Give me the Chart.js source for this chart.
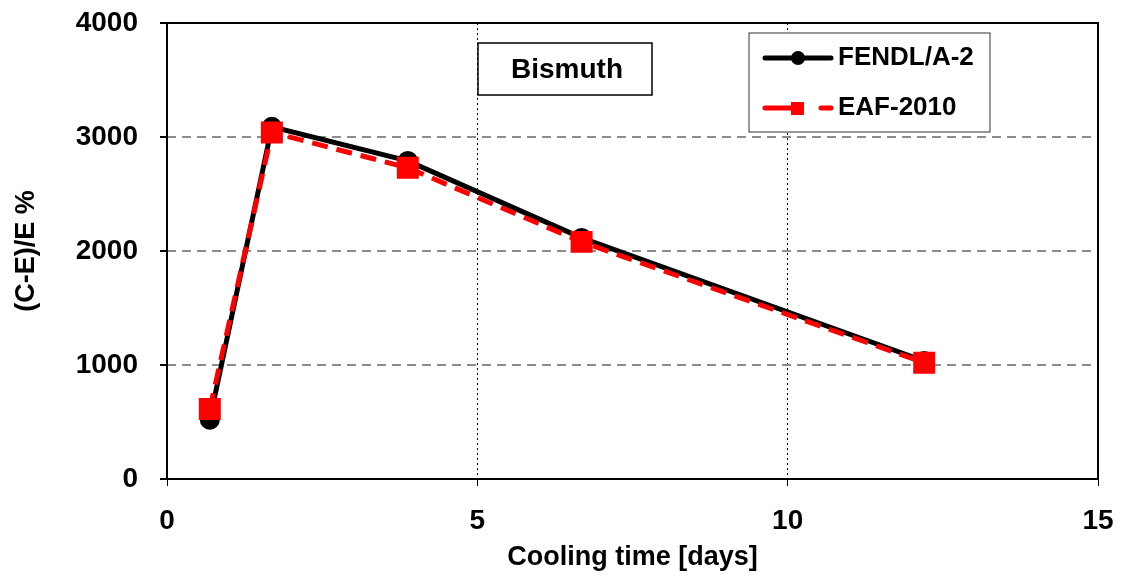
<!DOCTYPE html>
<html>
<head>
<meta charset="utf-8">
<script src="https://cdn.jsdelivr.net/npm/chart.js@4"></script>
<style>
  html, body { margin: 0; padding: 0; background: #fff; }
  #wrap { width: 1122px; height: 575px; }
</style>
</head>
<body>
<div id="wrap"><canvas id="chart" width="1122" height="575"></canvas></div>
<script>
// data
const coolingDays = [0.69, 1.69, 3.88, 6.68, 12.2];
const fendlValues = [520, 3090, 2790, 2115, 1035];
const eafValues = [615, 3040, 2730, 2080, 1020];
const seriesNames = ["FENDL/A-2", "EAF-2010"];
const xTicks = [0, 5, 10, 15];
const yTicks = [0, 1000, 2000, 3000, 4000];

const FONT = "'Liberation Sans', Arial, sans-serif";

function toPoints(xs, ys) {
  return xs.map((x, i) => ({ x: x, y: ys[i] }));
}

// frame round the plot area
const framePlugin = {
  id: "frame",
  beforeDatasetsDraw(chart) {
    const { ctx, chartArea: a } = chart;
    ctx.save();
    ctx.strokeStyle = "#000";
    ctx.lineWidth = 2;
    ctx.strokeRect(a.left, a.top, a.right - a.left, a.bottom - a.top);
    ctx.restore();
  }
};

// "Bismuth" label and legend box
const boxesPlugin = {
  id: "boxes",
  afterDatasetsDraw(chart) {
    const ctx = chart.ctx;
    ctx.save();
    // title box
    ctx.fillStyle = "#fff";
    ctx.fillRect(478, 43, 174, 52);
    ctx.strokeStyle = "#000";
    ctx.lineWidth = 1.5;
    ctx.strokeRect(478, 43, 174, 52);
    ctx.fillStyle = "#000";
    ctx.font = "bold 28px " + FONT;
    ctx.textAlign = "center";
    ctx.textBaseline = "middle";
    ctx.fillText("Bismuth", 567, 70);

    // legend
    ctx.fillStyle = "#fff";
    ctx.fillRect(749, 33, 241, 99);
    ctx.strokeStyle = "#333";
    ctx.lineWidth = 1;
    ctx.strokeRect(749, 33, 241, 99);

    const ds = chart.data.datasets;
    // FENDL row
    ctx.strokeStyle = ds[0].borderColor;
    ctx.lineWidth = 5;
    ctx.lineCap = "round";
    ctx.beginPath();
    ctx.moveTo(765, 58);
    ctx.lineTo(831, 58);
    ctx.stroke();
    ctx.fillStyle = ds[0].borderColor;
    ctx.beginPath();
    ctx.arc(798, 58, 7, 0, Math.PI * 2);
    ctx.fill();
    // EAF row
    ctx.strokeStyle = ds[1].borderColor;
    ctx.beginPath();
    ctx.moveTo(765, 108);
    ctx.lineTo(796, 108);
    ctx.moveTo(821, 108);
    ctx.lineTo(831, 108);
    ctx.stroke();
    ctx.fillStyle = ds[1].borderColor;
    ctx.fillRect(791, 102, 13, 13);

    ctx.fillStyle = "#000";
    ctx.font = "bold 26px " + FONT;
    ctx.textAlign = "left";
    ctx.textBaseline = "middle";
    ctx.fillText(seriesNames[0], 838, 58);
    ctx.fillText(seriesNames[1], 838, 108);
    ctx.restore();
  }
};

new Chart(document.getElementById("chart"), {
  type: "line",
  data: {
    datasets: [
      {
        label: seriesNames[0],
        data: toPoints(coolingDays, fendlValues),
        borderColor: "#000",
        backgroundColor: "#000",
        borderWidth: 5,
        pointStyle: "circle",
        pointRadius: 7.5,
        pointHoverRadius: 7.5,
        order: 2
      },
      {
        label: seriesNames[1],
        data: toPoints(coolingDays, eafValues),
        borderColor: "#ff0000",
        backgroundColor: "#ff0000",
        borderWidth: 5,
        borderDash: [16, 9],
        pointStyle: "rect",
        pointRadius: 12,
        pointHoverRadius: 12,
        order: 1
      }
    ]
  },
  options: {
    responsive: false,
    animation: false,
    devicePixelRatio: 1,
    layout: { padding: { top: 23, right: 24, left: 0, bottom: 0 } },
    plugins: {
      legend: { display: false },
      tooltip: { enabled: false }
    },
    scales: {
      x: {
        type: "linear",
        min: 0,
        max: 15,
        afterBuildTicks: (s) => { s.ticks = xTicks.map((v) => ({ value: v })); },
        afterFit: (s) => { s.height = 96; s.paddingLeft = 0; s.paddingRight = 0; },
        border: { display: false, dash: [2, 3] },
        grid: {
          color: "#000",
          lineWidth: 1,
          tickColor: "#000",
          tickBorderDash: [],
          tickLength: 7,
          drawOnChartArea: true
        },
        ticks: {
          color: "#000",
          font: { family: FONT, size: 28, weight: "bold" },
          padding: 18,
          maxRotation: 0,
          callback: (v) => String(v)
        },
        title: {
          display: true,
          text: "Cooling time [days]",
          color: "#000",
          font: { family: FONT, size: 27, weight: "bold" },
          padding: { top: 0, bottom: 1 }
        }
      },
      y: {
        min: 0,
        max: 4000,
        afterBuildTicks: (s) => { s.ticks = yTicks.map((v) => ({ value: v })); },
        afterFit: (s) => { s.width = 167; s.paddingTop = 0; s.paddingBottom = 0; },
        border: { display: false, dash: [9, 6] },
        grid: {
          color: "#8c8c8c",
          lineWidth: 2,
          tickColor: "#000",
          tickBorderDash: [],
          tickLength: 7,
          tickWidth: 2
        },
        ticks: {
          color: "#000",
          font: { family: FONT, size: 28, weight: "bold" },
          padding: 22,
          callback: (v) => String(v)
        },
        title: {
          display: true,
          text: "(C-E)/E %",
          color: "#000",
          font: { family: FONT, size: 27, weight: "bold" },
          padding: { top: 10, bottom: 0 }
        }
      }
    }
  },
  plugins: [framePlugin, boxesPlugin]
});
</script>
</body>
</html>
